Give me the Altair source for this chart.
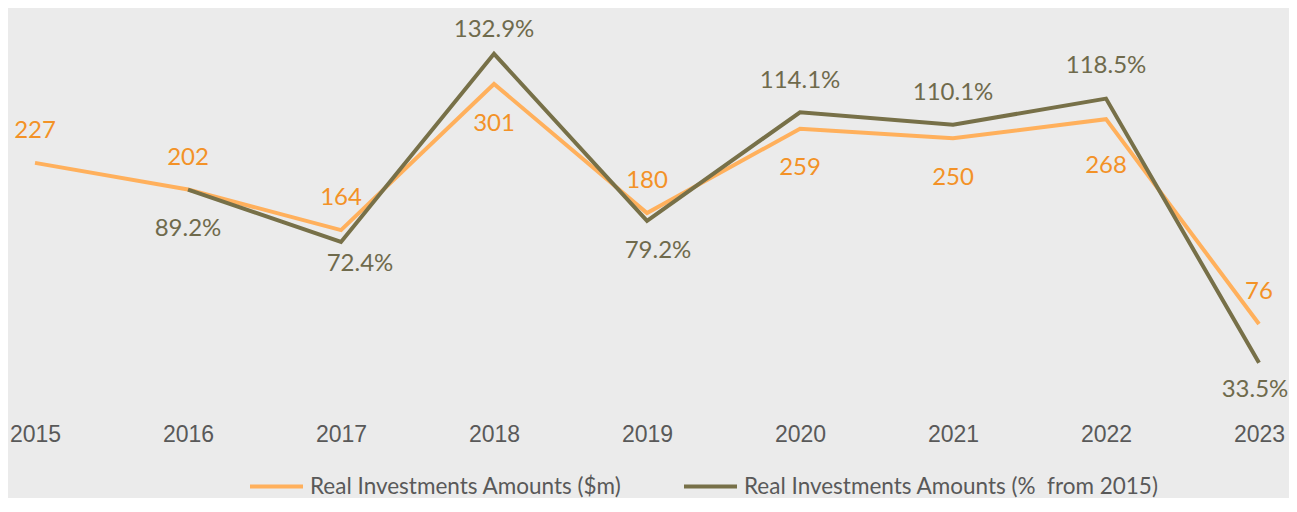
import altair as alt
import pandas as pd

# ---- data ----
years = [2015, 2016, 2017, 2018, 2019, 2020, 2021, 2022, 2023]
amounts_m = [227, 202, 164, 301, 180, 259, 250, 268, 76]
pct_from_2015 = [None, 89.2, 72.4, 132.9, 79.2, 114.1, 110.1, 118.5, 33.5]
series_names = ["Real Investments Amounts ($m)", "Real Investments Amounts (%\u00a0 from 2015)"]

# ---- label placement (pixel nudges of each data label from its point) ----
amount_label_nudge = {
    2015: (0, -34), 2016: (0, -34), 2017: (0, -34), 2018: (0, 38), 2019: (0, -34),
    2020: (0, 37), 2021: (0, 38), 2022: (0, 45), 2023: (0, -34),
}
pct_label_nudge = {
    2016: (0, 37), 2017: (19, 20), 2018: (0, -26), 2019: (11, 28),
    2020: (0, -33), 2021: (0, -34), 2022: (0, -35), 2023: (-4, 25),
}

# ---- styling ----
ORANGE_LINE = "#FFB05C"
OLIVE_LINE = "#777048"
ORANGE_TEXT = "#F39227"
OLIVE_TEXT = "#6F6A4C"
AXIS_TEXT = "#595959"
BG = "#EBEBEB"
BASELINE_FIX = 2

amt_df = pd.DataFrame({"year": years, "value": amounts_m, "series": series_names[0]})
amt_df["label"] = [str(v) for v in amounts_m]

pct_df = pd.DataFrame({"year": years, "value": pct_from_2015, "series": series_names[1]}).dropna()
pct_df["label"] = [f"{v:.1f}%" for v in pct_df["value"]]

x_enc = alt.X(
    "year:Q",
    scale=alt.Scale(domain=[2014.8235, 2023.196], nice=False, zero=False),
    axis=alt.Axis(
        values=years, format="d", title=None, grid=False, domain=False,
        ticks=False, tickSize=0, labelFlush=False, labelFontSize=23,
        labelFont="Liberation Sans", labelColor=AXIS_TEXT,
        labelBaseline="middle", labelPadding=26.5,
    ),
)

color_enc = alt.Color(
    "series:N",
    scale=alt.Scale(domain=series_names, range=[ORANGE_LINE, OLIVE_LINE]),
    legend=alt.Legend(
        title=None, orient="none", direction="horizontal",
        legendX=240, legendY=450, symbolType="stroke", symbolSize=2809,
        symbolStrokeWidth=4, labelFontSize=22.5, labelFont="Lato",
        labelColor=AXIS_TEXT, labelOffset=5, columnPadding=54, labelLimit=0,
    ),
)

y_amt = alt.Y("value:Q", scale=alt.Scale(domain=[-2.8, 372.2], nice=False, zero=False), axis=None)
y_pct = alt.Y("value:Q", scale=alt.Scale(domain=[18.98, 147.64], nice=False, zero=False), axis=None)


def label_layers(df, y_enc, color, nudges):
    layers = []
    for yr, (dx, dy) in nudges.items():
        layers.append(
            alt.Chart(df)
            .transform_filter(alt.datum.year == yr)
            .mark_text(font="Lato", fontSize=24, color=color, baseline="middle",
                       dx=dx, dy=dy + BASELINE_FIX)
            .encode(x=x_enc, y=y_enc, text="label:N")
        )
    return layers


amt_line = alt.Chart(amt_df).mark_line(strokeWidth=4, strokeJoin="miter").encode(
    x=x_enc, y=y_amt, color=color_enc
)
pct_line = alt.Chart(pct_df).mark_line(strokeWidth=4, strokeJoin="miter").encode(
    x=x_enc, y=y_pct, color=color_enc
)

layers = [amt_line, pct_line]
layers += label_layers(amt_df, y_amt, ORANGE_TEXT, amount_label_nudge)
layers += label_layers(pct_df, y_pct, OLIVE_TEXT, pct_label_nudge)

chart = (
    alt.layer(*layers)
    .resolve_scale(y="independent")
    .properties(
        width=1281, height=400,
        padding={"left": 0, "top": 0, "right": 0, "bottom": 90},
        autosize=alt.AutoSizeParams(type="none"),
        background=BG,
    )
    .configure_view(stroke=None)
)

chart.save("out.html", embed_options={"renderer": "svg", "actions": False})
